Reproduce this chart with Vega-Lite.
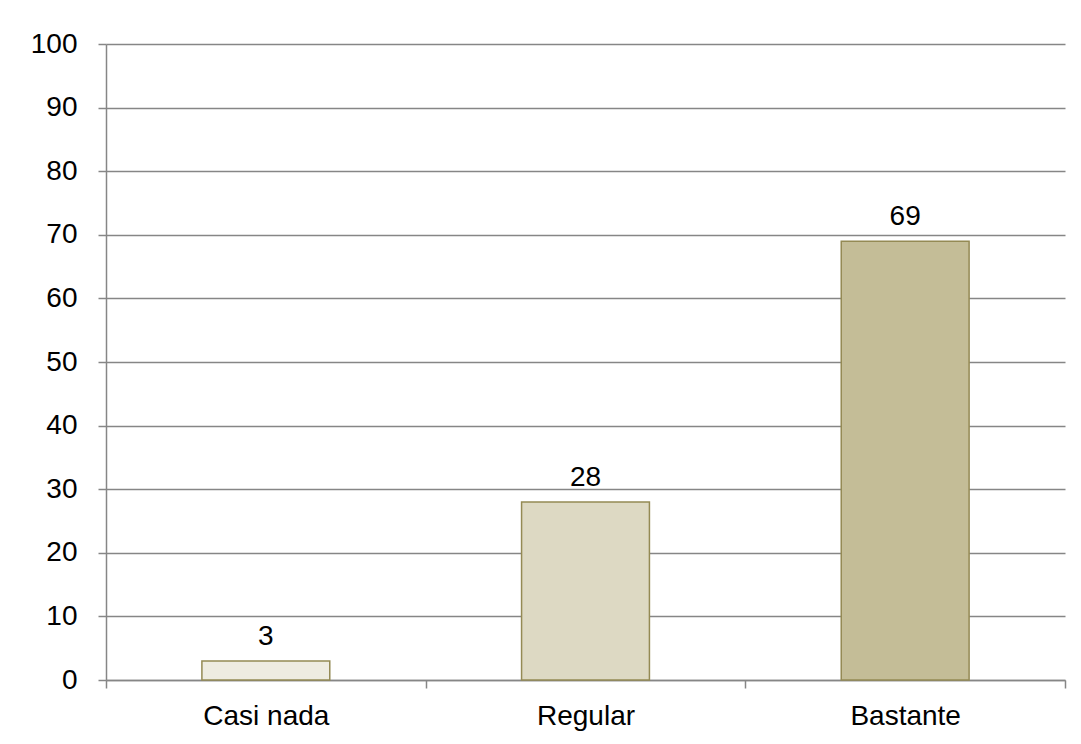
{
  "$schema": "https://vega.github.io/schema/vega-lite/v6.json",
  "width": 959,
  "height": 636,
  "autosize": {"type": "none"},
  "padding": {"left": 106, "top": 44, "right": 16, "bottom": 64},
  "background": "white",
  "config": {
    "view": {"stroke": null},
    "font": "Liberation Sans"
  },
  "data": {
    "values": [
      {"categoria": "Casi nada", "valor": 3, "color": "#EEECE1"},
      {"categoria": "Regular", "valor": 28, "color": "#DDD9C3"},
      {"categoria": "Bastante", "valor": 69, "color": "#C4BD97"}
    ]
  },
  "encoding": {
    "x": {
      "field": "categoria",
      "type": "nominal",
      "sort": null,
      "scale": {"paddingInner": 0, "paddingOuter": 0},
      "axis": {
        "title": null,
        "labelAngle": 0,
        "labelFontSize": 28,
        "labelColor": "#000000",
        "labelPadding": 14,
        "tickBand": "extent",
        "tickSize": 8,
        "tickColor": "#868686",
        "domainColor": "#868686",
        "domainWidth": 1.5,
        "tickWidth": 1.5,
        "grid": false
      }
    },
    "y": {
      "field": "valor",
      "type": "quantitative",
      "scale": {"domain": [0, 100], "nice": false},
      "axis": {
        "title": null,
        "values": [0, 10, 20, 30, 40, 50, 60, 70, 80, 90, 100],
        "labelFontSize": 28,
        "labelColor": "#000000",
        "labelPadding": 21,
        "tickSize": 8,
        "tickColor": "#868686",
        "tickWidth": 1.5,
        "domainColor": "#868686",
        "domainWidth": 1.5,
        "grid": true,
        "gridColor": "#868686",
        "gridWidth": 1.5,
        "gridOpacity": 1
      }
    }
  },
  "layer": [
    {
      "mark": {"type": "bar", "stroke": "#948A54", "strokeWidth": 1.5, "width": {"band": 0.4}},
      "encoding": {
        "color": {"field": "color", "type": "nominal", "scale": null, "legend": null}
      }
    },
    {
      "mark": {"type": "text", "fontSize": 28, "baseline": "alphabetic", "dy": -16, "color": "#000000"},
      "encoding": {
        "text": {"field": "valor", "type": "quantitative"}
      }
    }
  ]
}
